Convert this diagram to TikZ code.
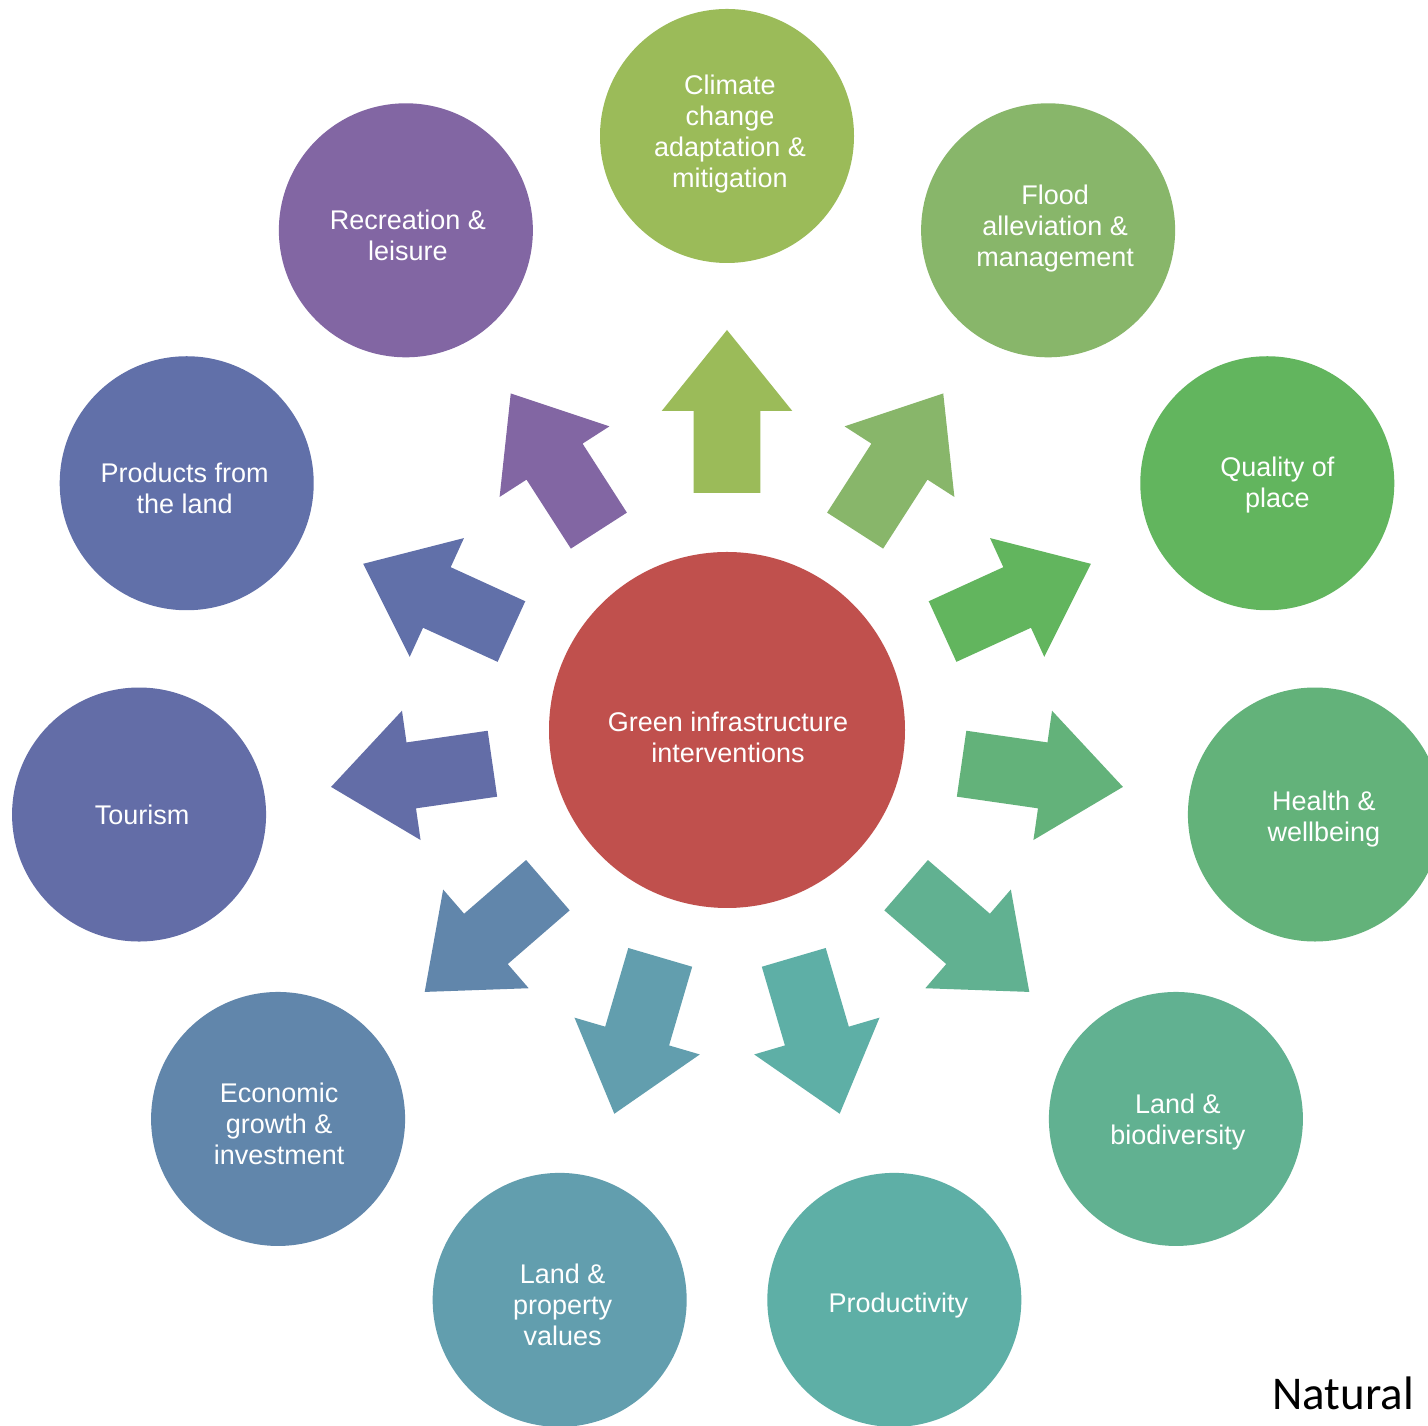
\documentclass[tikz,border=0pt]{standalone}
\usepackage{fontspec}
\setmainfont{Liberation Sans}
\newfontfamily\natfont{Carlito}
\usetikzlibrary{calc}
\definecolor{cCenter}{HTML}{C0504D}
\definecolor{c0}{HTML}{9BBB59}
\definecolor{c1}{HTML}{88B66A}
\definecolor{c2}{HTML}{62B55E}
\definecolor{c3}{HTML}{63B27A}
\definecolor{c4}{HTML}{61B191}
\definecolor{c5}{HTML}{5EAFA6}
\definecolor{c6}{HTML}{629EAE}
\definecolor{c7}{HTML}{6186AB}
\definecolor{c8}{HTML}{636DA7}
\definecolor{c9}{HTML}{6170A9}
\definecolor{c10}{HTML}{8266A3}
\begin{document}
\begin{tikzpicture}[x=1pt,y=1pt,
  outerdisc/.style={circle, minimum size=254pt, inner sep=0pt, draw=none},
  hubdisc/.style={circle, minimum size=356pt, inner sep=0pt, draw=none, fill=cCenter},
  disclabel/.style={text=white, align=center, inner sep=0pt, font=\fontsize{27}{31}\selectfont},
  ]
\useasboundingbox (0,0) rectangle (1428,1426);
\clip (0,0) rectangle (1428,1426);
\fill[white] (0,0) rectangle (1428,1426);
\coordinate (C) at (727,696);
\node[hubdisc] (hub) at (C) {};
\node[disclabel] (hubtext) at ($(hub)+(1,-7)$) {Green infrastructure\\interventions};
\foreach \k/\dx/\dy/\txt in {
  0/3/2/{Climate\\change\\adaptation \&\\mitigation},
  1/7/2/{Flood\\alleviation \&\\management},
  2/10/-2/{Quality of\\place},
  3/9/-5/{Health \&\\wellbeing},
  4/2/-3/{Land \&\\biodiversity},
  5/4/-6/{Productivity},
  6/3/-5/{Land \&\\property\\values},
  7/1/-5/{Economic\\growth \&\\investment},
  8/3/0/{Tourism},
  9/-2/-5/{Products from\\the land},
  10/2/-5/{Recreation \&\\leisure}}
{
  \pgfmathsetmacro\ang{90-\k*360/11}
  \node[outerdisc, fill=c\k] (o\k) at ($(C)+(\ang:594)$) {};
  \node[disclabel] (t\k) at ($(o\k)+(\dx,\dy)$) {\txt};
  \begin{scope}[shift={(C)}, rotate=\ang]
    \fill[c\k] (237,-33.3) -- (319,-33.3) -- (319,-65.3) -- (400,0)
      -- (319,65.3) -- (319,33.3) -- (237,33.3) -- cycle;
  \end{scope}
}
\node[anchor=base west, inner sep=0pt, font=\natfont\fontsize{47}{50}\selectfont] (nat) at (1272,16) {Natural};
\end{tikzpicture}
\end{document}
